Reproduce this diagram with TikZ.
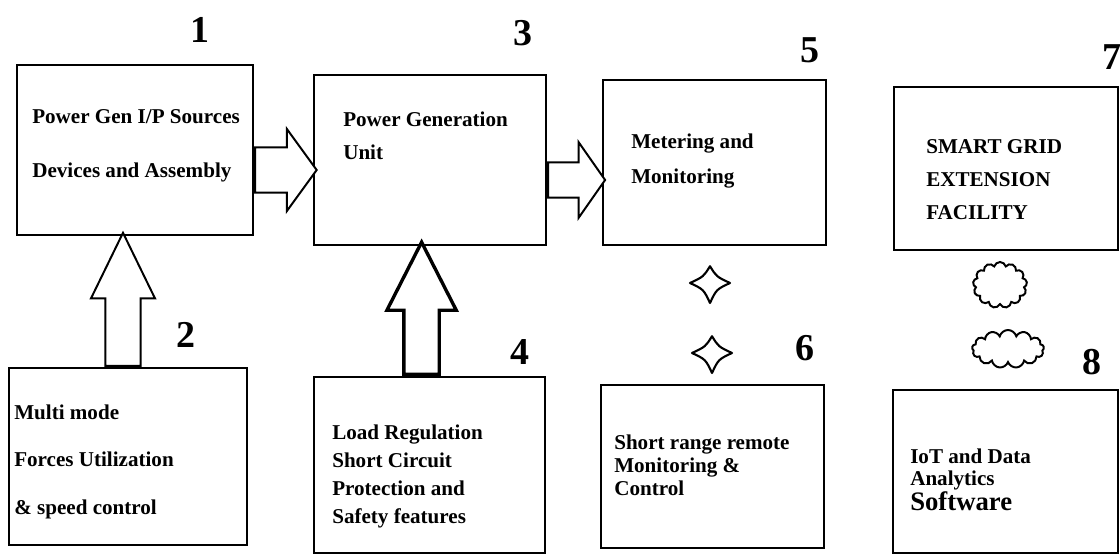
\documentclass[tikz,border=0pt]{standalone}
\usepackage{fontspec}
\setmainfont{Liberation Serif}
\usepackage{tikz}
\usetikzlibrary{arrows,shapes,positioning}

\begin{document}
\begin{tikzpicture}[
    block/.style={draw, line width=1.6pt, fill=white},
    desc/.style={anchor=base west, align=left, inner sep=0pt, font=\fontsize{15}{#1}\selectfont\bfseries},
    num/.style={font=\fontsize{27}{27}\selectfont\bfseries},
    bigarrow/.style={single arrow, draw, line width=1.4pt, fill=white, anchor=tail},
    spark/.pic={\draw[line width=1.5pt, line join=round] (0,0.42) .. controls (0.16,0.16) .. (0.5,0) .. controls (0.16,-0.16) .. (0,-0.5) .. controls (-0.16,-0.16) .. (-0.5,0) .. controls (-0.16,0.16) .. (0,0.42) -- cycle;},
    bubble/.style={cloud, cloud puffs=13, cloud ignores aspect, draw, line width=1.4pt, inner sep=0pt}
]
    \useasboundingbox (0,0) rectangle (28,13.9);

    % top row
    \node[block, minimum width=5.9cm, minimum height=4.25cm] (gensrc) at (3.375,10.15) {};
    \node[block, minimum width=5.8cm, minimum height=4.25cm] (genunit) at (10.75,9.9) {};
    \node[block, minimum width=5.575cm, minimum height=4.125cm] (metering) at (17.86,9.84) {};
    \node[block, minimum width=5.6cm, minimum height=4.075cm] (smartgrid) at (25.15,9.69) {};

    % bottom row
    \node[block, minimum width=5.95cm, minimum height=4.425cm] (forces) at (3.2,2.49) {};
    \node[block, minimum width=5.775cm, minimum height=4.4cm] (loadreg) at (10.74,2.275) {};
    \node[block, minimum width=5.575cm, minimum height=4.075cm] (remote) at (17.81,2.24) {};
    \node[block, minimum width=5.625cm, minimum height=4.075cm] (iot) at (25.14,2.11) {};

    % texts (placed at the baseline of the last line)
    \node[desc=39] (gensrctxt) at (0.8,9.454) {Power Gen I/P Sources\\Devices and Assembly};
    \node[desc=23.5] (genunittxt) at (8.575,9.924) {Power Generation\\Unit};
    \node[desc=25] (meteringtxt) at (15.775,9.321) {Metering and\\Monitoring};
    \node[desc=23.5] (smartgridtxt) at (23.15,8.423) {SMART GRID\\EXTENSION\\FACILITY};
    \node[desc=34] (forcestxt) at (0.35,1.035) {Multi mode\\Forces Utilization\\\& speed control};
    \node[desc=20] (loadregtxt) at (8.3,0.816) {Load Regulation\\Short Circuit\\Protection and\\Safety features};
    \node[desc=16.4] (remotetxt) at (15.35,1.522) {Short range remote\\Monitoring \&\\Control};
    \node[desc=15.6] (iottxt) at (22.75,1.15) {IoT and Data\\Analytics\\{\fontsize{19}{16}\selectfont Software}};

    % numbers
    \node[num] (n1) at (5.0,13.15) {1};
    \node[num] (n2) at (4.65,5.525) {2};
    \node[num] (n3) at (13.075,13.075) {3};
    \node[num] (n4) at (13.0,5.1) {4};
    \node[num] (n5) at (20.25,12.65) {5};
    \node[num] (n6) at (20.125,5.2) {6};
    \node[num] (n7) at (27.8,12.475) {7};
    \node[num] (n8) at (27.3,4.85) {8};

    % hollow arrows
    \node[bigarrow, inner sep=0.54cm, minimum width=2cm, single arrow head extend=0.46cm, single arrow tip angle=108, minimum height=1.525cm] (srctounit) at ([yshift=-0.5cm]gensrc.east) {};
    \node[bigarrow, inner sep=0.415cm, minimum width=1.85cm, single arrow head extend=0.51cm, single arrow tip angle=110, minimum height=1.425cm] (unittometer) at ([yshift=-0.5cm]genunit.east) {};
    \node[bigarrow, shape border rotate=90, inner sep=0.415cm, minimum width=1.55cm, single arrow head extend=0.36cm, single arrow tip angle=52, minimum height=3.325cm] (forcestosrc) at ([xshift=-0.125cm]forces.north) {};
    \node[bigarrow, shape border rotate=90, line width=2.4pt, inner sep=0.4cm, minimum width=1.65cm, single arrow head extend=0.425cm, single arrow tip angle=54, minimum height=3.3cm] (loadtounit) at ([xshift=-0.2cm]loadreg.north) {};

    % wireless marks
    \pic (sparkup) at (17.75,6.825) {spark};
    \pic (sparkdown) at (17.8,5.075) {spark};
    \node[bubble, minimum width=1.35cm, minimum height=1.15cm] (bubbleup) at (25.0,6.775) {};
    \node[bubble, minimum width=1.8cm, minimum height=0.95cm] (bubbledown) at (25.2,5.175) {};
\end{tikzpicture}
\end{document}
